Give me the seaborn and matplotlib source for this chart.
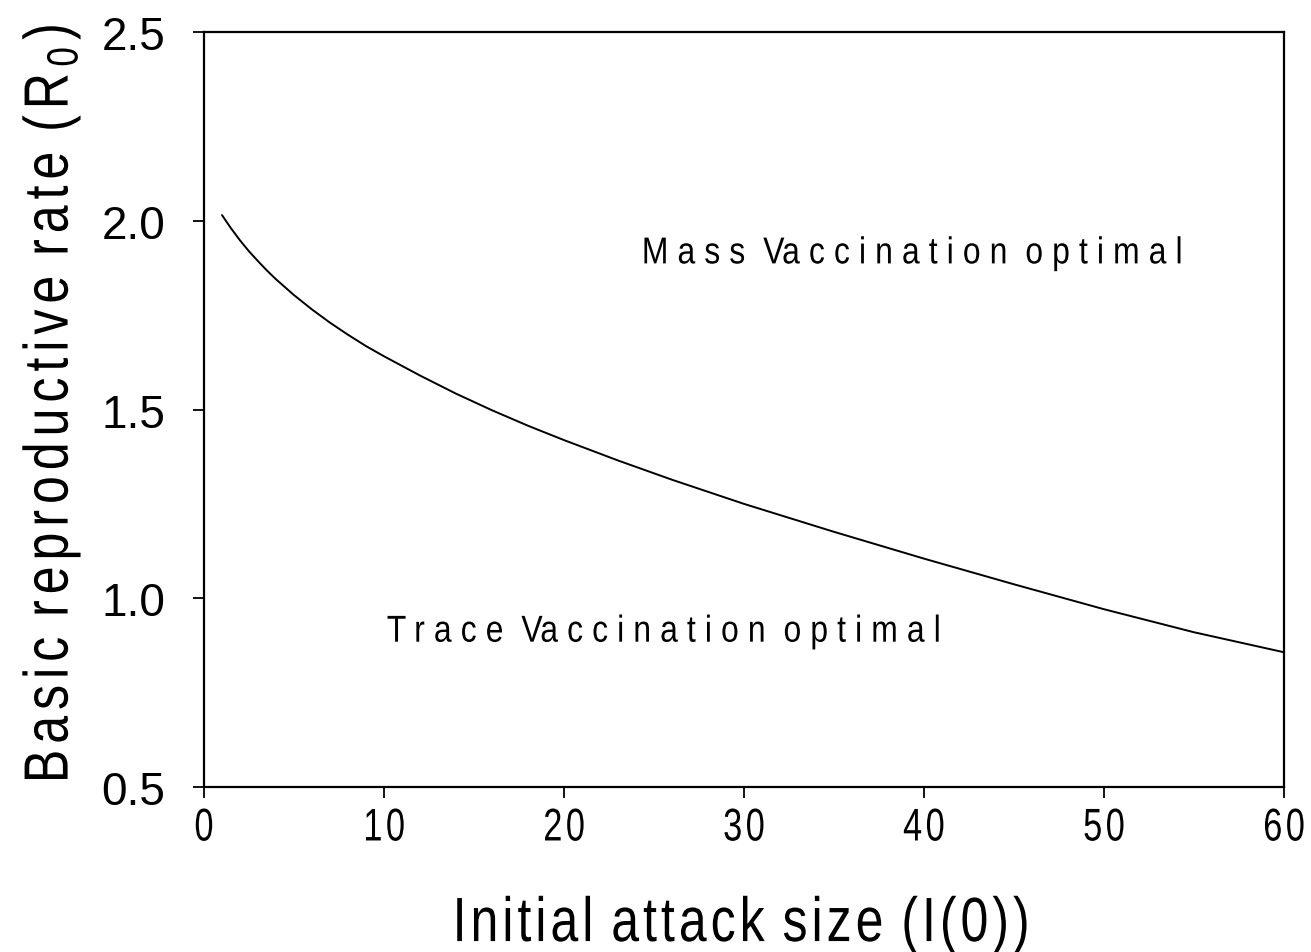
import matplotlib
matplotlib.use("Agg")
import numpy as np
import matplotlib.pyplot as plt
from matplotlib.patheffects import AbstractPathEffect
from matplotlib.path import Path
import seaborn as sns
import pandas as pd

# Threshold curve: R0 above which mass vaccination beats trace vaccination
attack_size = [1, 1.5, 2, 2.5, 3, 3.5, 4, 5, 6, 7, 8, 9, 10, 12, 14, 16, 18, 20,
               23, 26, 30, 35, 40, 45, 50, 55, 60]
r0_threshold = [2.015, 1.980, 1.948, 1.919, 1.893, 1.868, 1.845, 1.803, 1.765, 1.730,
                1.698, 1.668, 1.641, 1.590, 1.542, 1.498, 1.457, 1.419, 1.365, 1.314,
                1.250, 1.176, 1.105, 1.037, 0.971, 0.910, 0.857]

x_ticks = [0, 10, 20, 30, 40, 50, 60]
y_ticks = [0.5, 1.0, 1.5, 2.0, 2.5]

region_labels = ["Mass Vaccination optimal", "Trace Vaccination optimal"]
region_pos = [(24.3, 1.887), (10.15, 0.885)]


class Condensed(AbstractPathEffect):
    """Draw text narrower and with extra space between glyphs."""

    def __init__(self, sx=0.8, track=0.1, anchor="center"):
        super().__init__()
        self.sx = sx
        self.track = track
        self.anchor = anchor

    def draw_path(self, renderer, gc, tpath, affine, rgbFace=None):
        verts = np.array(tpath.vertices, dtype=float)
        codes = tpath.codes
        if codes is None or len(verts) == 0:
            renderer.draw_path(gc, tpath, affine, rgbFace)
            return
        starts = list(np.flatnonzero(codes == Path.MOVETO))
        if not starts or starts[0] != 0:
            starts = [0] + starts
        ends = starts[1:] + [len(verts)]
        groups = []
        for s, e in zip(starts, ends):
            ok = codes[s:e] != Path.CLOSEPOLY
            if not ok.any():
                continue
            lo = verts[s:e][ok, 0].min()
            hi = verts[s:e][ok, 0].max()
            if groups and lo < groups[-1][1] - 1e-6 and hi > groups[-1][0]:
                g = groups[-1]
                g[0] = min(g[0], lo)
                g[1] = max(g[1], hi)
                g[2].append((s, e))
            else:
                groups.append([lo, hi, [(s, e)]])
        if not groups:
            renderer.draw_path(gc, tpath, affine, rgbFace)
            return
        step = self.track * 100.0
        new = verts.copy()
        for gi, (_, _, spans) in enumerate(groups):
            for s, e in spans:
                new[s:e, 0] += gi * step
        lo0 = min(g[0] for g in groups)
        hi0 = max(g[1] for g in groups)
        extra = (len(groups) - 1) * step
        if self.anchor == "center":
            p_old, p_new = (lo0 + hi0) / 2, (lo0 + hi0 + extra) / 2
        elif self.anchor == "right":
            p_old, p_new = hi0, hi0 + extra
        else:
            p_old, p_new = lo0, lo0
        new[:, 0] = p_old + self.sx * (new[:, 0] - p_new)
        renderer.draw_path(gc, Path(new, codes), affine, rgbFace)


sns.set_theme(style="ticks")
plt.rcParams["font.family"] = ["Liberation Sans", "DejaVu Sans"]
plt.rcParams["mathtext.fontset"] = "custom"
plt.rcParams["mathtext.rm"] = "Liberation Sans"
plt.rcParams["mathtext.it"] = "Liberation Sans"
for key in ["text.color", "axes.labelcolor", "xtick.color", "ytick.color", "axes.edgecolor"]:
    plt.rcParams[key] = "black"

df = pd.DataFrame({"I0": attack_size, "R0": r0_threshold})

fig = plt.figure(figsize=(13.11, 9.53), dpi=100)
ax = fig.add_axes([0.1556, 0.1731, 0.8238, 0.7923])

sns.lineplot(data=df, x="I0", y="R0", ax=ax, color="black", linewidth=1.4)

ax.set_xlim(0, 60)
ax.set_ylim(0.5, 2.5)
ax.set_xticks(x_ticks)
ax.set_yticks(y_ticks)
ax.set_xticklabels([str(v) for v in x_ticks])
ax.set_yticklabels([f"{v:.1f}" for v in y_ticks])

for side in ["left", "bottom", "right", "top"]:
    ax.spines[side].set_visible(True)
    ax.spines[side].set_linewidth(1.6)

ax.tick_params(axis="both", direction="out", length=8, width=1.3, labelsize=33)
ax.tick_params(axis="y", pad=20)
ax.tick_params(axis="x", pad=6)
ax.tick_params(top=False, right=False)
for lab in ax.get_xticklabels():
    lab.set_path_effects([Condensed(sx=0.75, track=0.1, anchor="center")])

xl = ax.set_xlabel("Initial attack size (I(0))", fontsize=45)
xl.set_path_effects([Condensed(sx=0.8, track=0.08, anchor="center")])
xl.set_verticalalignment("baseline")
ax.xaxis.set_label_coords(0.497, -0.204)

yl = ax.set_ylabel("Basic reproductive rate (R$_0$)", fontsize=45, rotation_mode="anchor")
yl.set_path_effects([Condensed(sx=0.8, track=0.12, anchor="center")])
yl.set_verticalalignment("baseline")
yl.set_horizontalalignment("center")
ax.yaxis.set_label_coords(-0.126, 0.507)

for text, (tx, ty) in zip(region_labels, region_pos):
    t = ax.text(tx, ty, text, fontsize=27, va="baseline", ha="left")
    t.set_path_effects([Condensed(sx=0.85, track=0.285, anchor="left")])

ax.set_facecolor("white")
fig.patch.set_facecolor("white")
fig.savefig("out.png", dpi=100)
